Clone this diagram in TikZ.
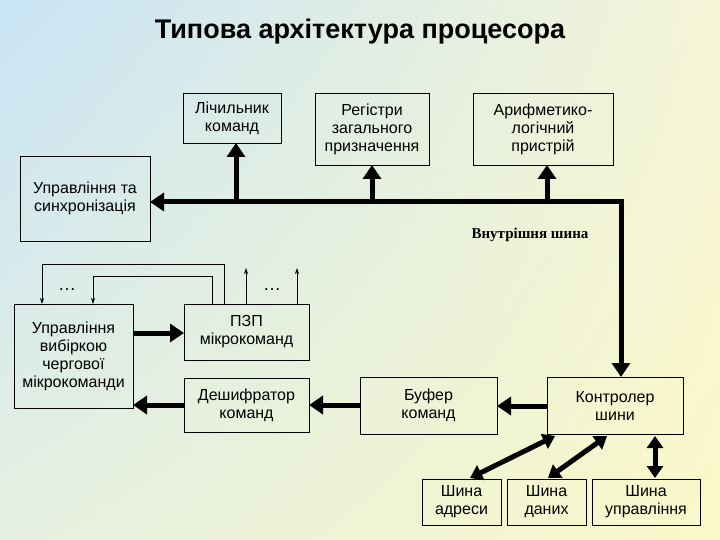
\documentclass[tikz,border=0pt]{standalone}
\usepackage{fontspec}
\setmainfont{Liberation Sans}
\usetikzlibrary{arrows.meta,shadings}
\definecolor{bgul}{RGB}{200,228,245}
\definecolor{bgur}{RGB}{245,245,215}
\definecolor{bgll}{RGB}{230,240,225}
\definecolor{bglr}{RGB}{250,248,200}
\begin{document}
\begin{tikzpicture}[x=1pt,y=-1pt,
  box/.style={draw,line width=0.8pt,inner sep=0pt,align=center,font=\fontsize{16}{18}\selectfont},
  thick arr/.style={line width=5pt,-{Triangle[length=14pt,width=18pt]}},
  dbl arr/.style={line width=5pt,{Triangle[length=12pt,width=16pt]}-{Triangle[length=12pt,width=16pt]}},
  thin arr/.style={line width=0.8pt,-{Stealth[length=6pt,width=4pt]}}]
\shade[upper left=bgul,upper right=bgur,lower left=bgll,lower right=bglr] (0,0) rectangle (720,540);
\useasboundingbox (0,0) rectangle (720,540);
\node[font=\bfseries\fontsize{27}{30}\selectfont] (title) at (360,32) {Типова архітектура процесора};
\newcommand{\bx}[6]{\node[box,minimum width=#4-#2,minimum height=#5-#3] (#1) at ({(#2+#4)/2},{(#3+#5)/2}) {#6};}
\bx{lc}{183}{93}{281}{143}{Лічильник\\команд}
\bx{reg}{315}{93}{429}{165}{Регістри\\загального\\призначення}
\bx{alu}{473}{93}{613}{165}{Арифметико-\\логічний\\пристрій}
\bx{us}{20}{156}{150}{241}{Управління та\\синхронізація}
\bx{uv}{14}{304}{133}{408}{Управління\\вибіркою\\чергової\\мікрокоманди}
\bx{pzp}{184}{304}{309}{360}{ПЗП\\мікрокоманд}
\bx{dec}{184}{378}{309}{432}{Дешифратор\\команд}
\bx{buf}{360}{377}{497}{434}{Буфер\\команд}
\bx{ctl}{547}{377}{683}{434}{Контролер\\шини}
\bx{sa}{422}{479}{501}{525}{Шина\\адреси}
\bx{sd}{507}{479}{586}{525}{Шина\\даних}
\bx{su}{592}{479}{700}{525}{Шина\\управління}
% internal bus
\coordinate (bc) at (621,202);
\draw[thick arr] (236,202) -- (236,143);
\draw[thick arr] (372,202) -- (372,165);
\draw[thick arr] (547,202) -- (547,165);
\draw[thick arr] (bc) -- (150,202);
\draw[thick arr,line join=miter] (618.5,202) -- (bc) -- (621,377);
\node[font=\bfseries\fontsize{15}{17}\selectfont] (ib) at (530,235) {\fontspec{Liberation Serif}Внутрішня шина};
% horizontal thick arrows
\draw[thick arr] (133,333) -- (184,333);
\draw[thick arr] (184,405) -- (133,405);
\draw[thick arr] (360,405) -- (309,405);
\draw[thick arr] (547,406) -- (497,406);
% bus double arrows
\draw[dbl arr] (555,436) -- (470,478);
\draw[dbl arr] (607,436) -- (548,478);
\draw[dbl arr] (655,436) -- (655,478);
% thin feedback lines
\draw[thin arr] (224,304) -- (224,264) -- (42,264) -- (42,304);
\draw[thin arr] (212,304) -- (212,276) -- (93,276) -- (93,304);
\draw[thin arr] (246,304) -- (246,268);
\draw[thin arr] (297,304) -- (297,268);
\node[font=\fontsize{18}{18}\selectfont] (d1) at (67,290) {\ldots};
\node[font=\fontsize{18}{18}\selectfont] (d2) at (272,290) {\ldots};
\end{tikzpicture}
\end{document}
